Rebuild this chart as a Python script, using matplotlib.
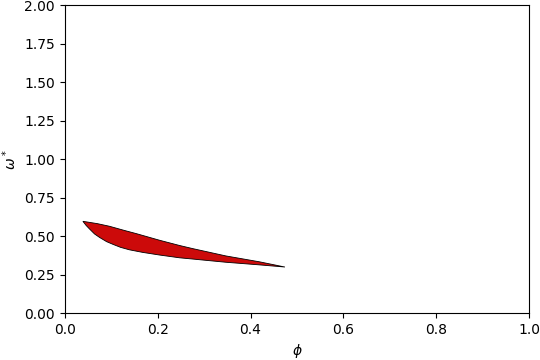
import numpy as np
import matplotlib
matplotlib.use('Agg')
import matplotlib.pyplot as plt

# upper boundary of the region (phi, omega*)
phi_up = [0.039, 0.070, 0.096, 0.128, 0.154, 0.204, 0.247, 0.275, 0.347, 0.419, 0.474]
om_up = [0.597, 0.582, 0.565, 0.538, 0.517, 0.474, 0.440, 0.420, 0.372, 0.334, 0.300]
# lower boundary
phi_lo = [0.039, 0.046, 0.053, 0.064, 0.075, 0.090, 0.104, 0.120, 0.139, 0.168,
          0.204, 0.247, 0.275, 0.347, 0.419, 0.474]
om_lo = [0.597, 0.570, 0.548, 0.515, 0.492, 0.465, 0.447, 0.428, 0.412, 0.395,
         0.378, 0.360, 0.352, 0.331, 0.314, 0.300]

fig, ax = plt.subplots(figsize=(5.4, 3.6), dpi=100)

xs = phi_up + phi_lo[::-1]
ys = om_up + om_lo[::-1]
ax.fill(xs, ys, facecolor='#cc0a0a', edgecolor='black', linewidth=0.6)

ax.set_xlim(0, 1)
ax.set_ylim(0, 2)
ax.set_xlabel(r'$\phi$')
ax.set_ylabel(r'$\omega^*$')

plt.subplots_adjust(left=0.12, right=0.98, bottom=0.13, top=0.985)
plt.savefig('out.png')
